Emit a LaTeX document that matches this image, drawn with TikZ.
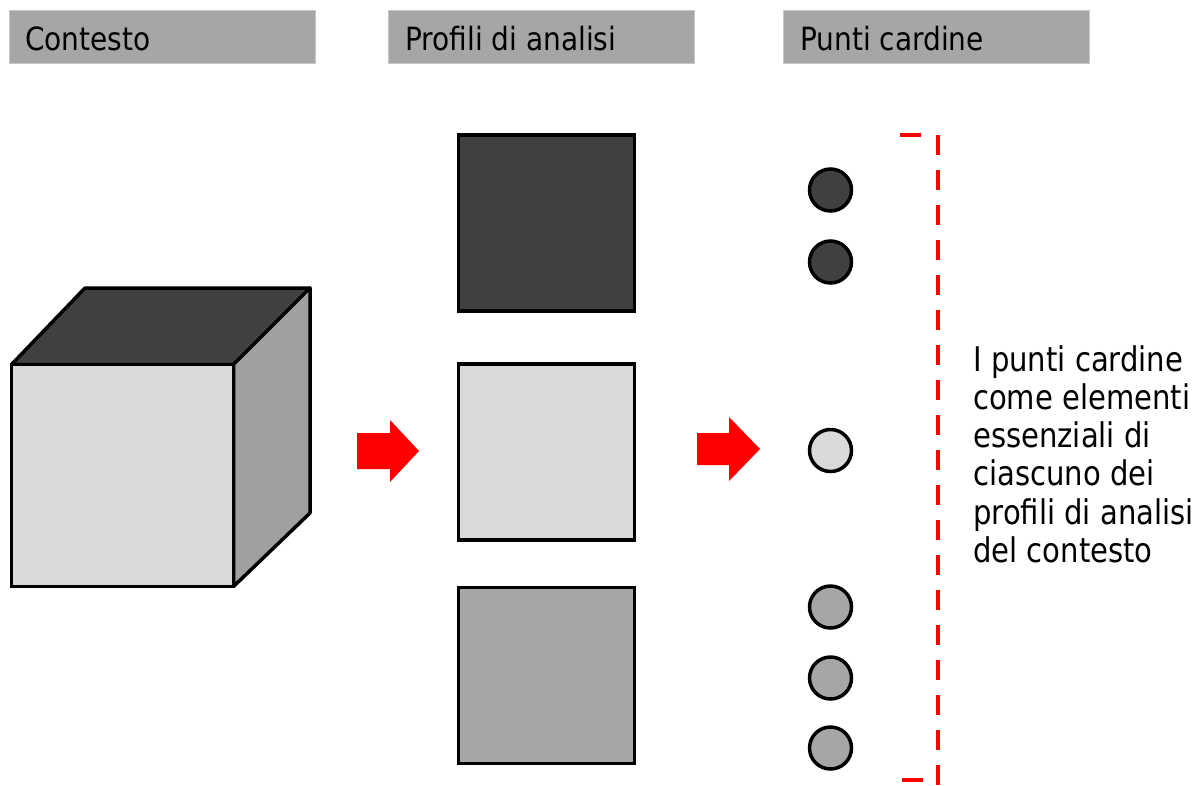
\documentclass[tikz,border=0pt]{standalone}
\usepackage{fontspec}
\setmainfont{DejaVu Sans}[FakeStretch=0.875]
\newfontfamily\sidefont{DejaVu Sans}[FakeStretch=0.855]
\definecolor{hdr}{HTML}{A6A6A6}
\definecolor{hdrline}{HTML}{C8C8C8}
\definecolor{dark}{HTML}{404040}
\definecolor{light}{HTML}{D9D9D9}
\definecolor{mid}{HTML}{A6A6A6}
\definecolor{side}{HTML}{A0A0A0}
\tikzset{
  header/.style={fill=hdr, draw=hdrline, line width=1pt, minimum width=306pt, minimum height=53pt, inner sep=0pt, outer sep=0pt},
  htext/.style={anchor=base west, inner sep=0pt, font=\fontsize{32}{38}\selectfont},
  sq/.style={draw=black, line width=3.5pt, minimum size=176pt, inner sep=0pt, outer sep=0pt},
  dot/.style={circle, draw=black, line width=3.5pt, minimum size=42pt, inner sep=0pt},
  redarrow/.style={fill=red},
  face/.style={draw=black, line width=3.5pt, line join=round},
  reddash/.style={draw=red, line width=3.5pt, dash pattern=on 19.5pt off 15.5pt},
  redtick/.style={draw=red, line width=3.5pt},
}
\begin{document}
\begin{tikzpicture}[x=1pt,y=-1pt]
\useasboundingbox (0,0) rectangle (1201,785);
% headers
\node[header] (h1) at (162,36.5) {};
\node[header] (h2) at (541,36.5) {};
\node[header] (h3) at (936,36.5) {};
\node[htext] (t1) at (25,50) {Contesto};
\node[htext] (t2) at (405,50) {Profili di analisi};
\node[htext] (t3) at (800,50) {Punti cardine};
% cube
\node[sq, fill=light, minimum size=222pt] (front) at (122.5,475.5) {};
\coordinate (bt1) at (85,288);
\coordinate (bt2) at (310,288);
\coordinate (bt3) at (310,513);
\draw[face, fill=dark] (front.north west) -- (bt1) -- (bt2) -- (front.north east) -- cycle;
\draw[face, fill=side] (front.north east) -- (bt2) -- (bt3) -- (front.south east) -- cycle;
\node[sq, fill=light, minimum size=222pt] at (front) {};
% arrows
\coordinate (a1) at (357,449);
\coordinate (a2) at (697,449);
\fill[redarrow] (a1) ++(0,-16) -- ++(33,0) -- ++(0,-13) -- ++(29,31) -- ++(-29,31) -- ++(0,-13) -- ++(-33,0) -- cycle;
\fill[redarrow] (a2) ++(0,-16) -- ++(32,0) -- ++(0,-16) -- ++(31,32) -- ++(-31,32) -- ++(0,-16) -- ++(-32,0) -- cycle;
% squares
\node[sq, fill=dark] (s1) at (546.5,223) {};
\node[sq, fill=light] (s2) at (546.5,452) {};
\node[sq, fill=mid] (s3) at (546.5,675.5) {};
% dots
\node[dot, fill=dark] (d1) at (830.5,190) {};
\node[dot, fill=dark] (d2) at (830.5,262) {};
\node[dot, fill=light] (d3) at (830.5,450.5) {};
\node[dot, fill=mid] (d4) at (830.5,607) {};
\node[dot, fill=mid] (d5) at (830.5,678) {};
\node[dot, fill=mid] (d6) at (830.5,748) {};
% bracket
\coordinate (bTop) at (938,135);
\coordinate (bBot) at (938,785);
\coordinate (tk1a) at (900,135);
\coordinate (tk1b) at (921,135);
\coordinate (tk2a) at (902,780);
\coordinate (tk2b) at (923,780);
\draw[reddash] (bTop) -- (bBot);
\draw[redtick] (tk1a) -- (tk1b);
\draw[redtick] (tk2a) -- (tk2b);
% side text
\node[anchor=north west, inner sep=0pt, align=left, font=\sidefont\fontsize{34}{38.3}\selectfont] (txt) at (973,345)
{I punti cardine\\come elementi\\essenziali di\\ciascuno dei\\profili di analisi\\del contesto};
\end{tikzpicture}
\end{document}
